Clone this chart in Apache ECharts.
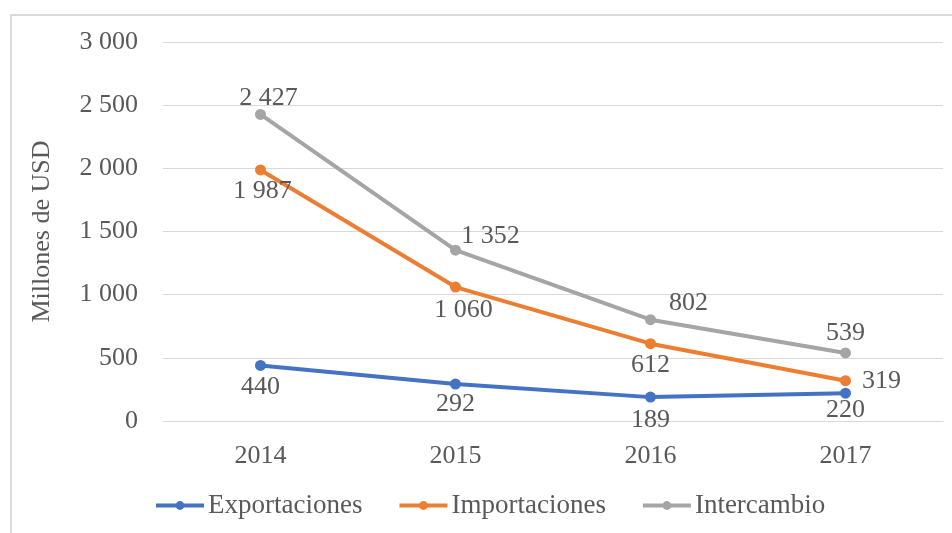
<!DOCTYPE html>
<html><head><meta charset="utf-8">
<script src="https://cdn.jsdelivr.net/npm/echarts@6/dist/echarts.min.js"></script>
<style>html,body{margin:0;padding:0;background:#fff}#c{width:952px;height:533px}</style>
</head><body><div id="c"></div>
<script>
const years = ['2014','2015','2016','2017'];
const exportaciones = [440, 292, 189, 220];
const importaciones = [1987, 1060, 612, 319];
const intercambio = [2427, 1352, 802, 539];
const yTicks = [0, 500, 1000, 1500, 2000, 2500, 3000];

const fmt = v => String(v).replace(/\B(?=(\d{3})+(?!\d))/g, ' ');
const font = 'Liberation Serif';
const txt = '#595959';
const fs = 26;

const labelCfg = (offsets, positions) => (v, i) => ({
  value: v,
  label: { position: positions[i], offset: offsets[i] }
});

const chart = echarts.init(document.getElementById('c'));
chart.setOption({
  animation: false,
  graphic: [{ type: 'rect', shape: { x: 11, y: 15, width: 960, height: 540 },
    style: { fill: 'none', stroke: '#d9d9d9', lineWidth: 2 }, silent: true }],
  grid: { left: 163, right: 9, top: 42, bottom: 112 },
  legend: {
    bottom: 9, left: 149, itemWidth: 48, itemHeight: 11, itemGap: 35,
    lineStyle: { width: 4 },
    textStyle: { fontFamily: font, fontSize: 27, color: txt, padding: [0, 0, 0, -1] },
    data: ['Exportaciones', 'Importaciones', 'Intercambio']
  },
  xAxis: {
    type: 'category', data: years,
    axisLine: { lineStyle: { color: '#d9d9d9', width: 1 } },
    axisTick: { show: false },
    axisLabel: { fontFamily: font, fontSize: fs, color: txt, margin: 22 }
  },
  yAxis: {
    type: 'value', min: yTicks[0], max: yTicks[yTicks.length - 1], interval: 500,
    name: 'Millones de USD', nameLocation: 'middle', nameGap: 108, nameRotate: 90,
    nameTextStyle: { fontFamily: font, fontSize: fs, color: txt },
    axisLine: { show: false }, axisTick: { show: false },
    splitLine: { lineStyle: { color: '#d9d9d9', width: 1 } },
    axisLabel: { fontFamily: font, fontSize: fs, color: txt, margin: 25, formatter: fmt }
  },
  series: [
    {
      name: 'Exportaciones', type: 'line', data: exportaciones.map(labelCfg(
        [[0, -2], [0, -3], [0, 0], [0, -7]], ['bottom', 'bottom', 'bottom', 'bottom'])),
      color: '#4472C4', lineStyle: { width: 4 }, symbol: 'circle', symbolSize: 11,
      label: { show: true, fontFamily: font, fontSize: fs, color: txt, formatter: p => fmt(p.value) }
    },
    {
      name: 'Importaciones', type: 'line', data: importaciones.map(labelCfg(
        [[2, -2], [8, 0], [0, -2], [6, 0]], ['bottom', 'bottom', 'bottom', 'right'])),
      color: '#ED7D31', lineStyle: { width: 4 }, symbol: 'circle', symbolSize: 11,
      label: { show: true, fontFamily: font, fontSize: fs, color: txt, formatter: p => fmt(p.value) }
    },
    {
      name: 'Intercambio', type: 'line', data: intercambio.map(labelCfg(
        [[8, 7], [35, 9], [38, 7], [0, 4]], ['top', 'top', 'top', 'top'])),
      color: '#A5A5A5', lineStyle: { width: 4 }, symbol: 'circle', symbolSize: 11,
      label: { show: true, fontFamily: font, fontSize: fs, color: txt, formatter: p => fmt(p.value) }
    }
  ]
});
</script></body></html>
